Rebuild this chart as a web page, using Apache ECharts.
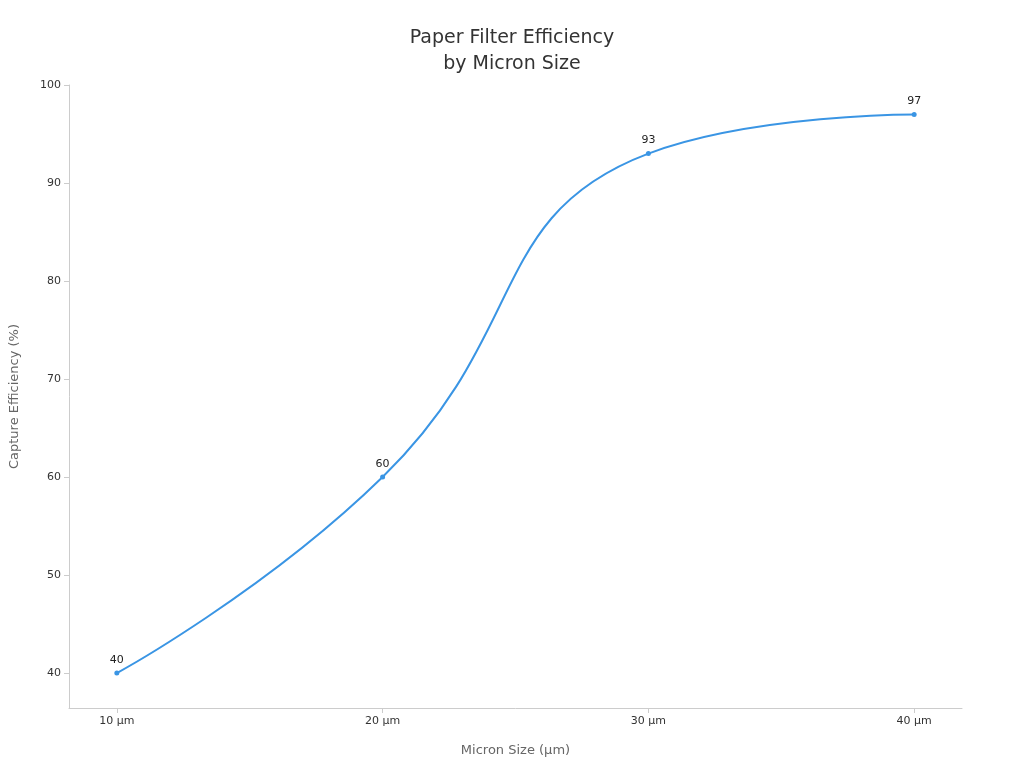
<!DOCTYPE html>
<html>
<head>
<meta charset="utf-8">
<script src="https://cdn.jsdelivr.net/npm/echarts@6/dist/echarts.min.js"></script>
<style>html,body{margin:0;padding:0;background:#fff}#chart-container{width:1024px;height:768px}</style>
</head>
<body>
<div id="chart-container"></div>
<script>
// data
var micronSizes = [10, 20, 30, 40];
var efficiency = [40, 60, 93, 97];
var yTicks = [40, 50, 60, 70, 80, 90, 100];

var chartDom = document.getElementById("chart-container");
var myChart = echarts.init(chartDom);

var font = "DejaVu Sans";
var option = {
  textStyle: { fontFamily: font },
  title: {
    text: "Paper Filter Efficiency\nby Micron Size",
    left: "center",
    top: 20,
    textStyle: { fontSize: 19, fontWeight: "normal", color: "#333", lineHeight: 26, fontFamily: font }
  },
  grid: { left: 68, right: 62, top: 85, bottom: 60 },
  xAxis: {
    type: "value",
    min: 8.2,
    max: 41.8,
    name: "Micron Size (µm)",
    nameLocation: "middle",
    nameGap: 36,
    nameTextStyle: { color: "#666", fontSize: 13 },
    axisLine: { lineStyle: { color: "#ccc" } },
    axisTick: { show: true, customValues: micronSizes, lineStyle: { color: "#ccc" } },
    axisLabel: { customValues: micronSizes, formatter: function (v) { return v + " µm"; }, color: "#333", fontSize: 11 },
    splitLine: { show: false }
  },
  yAxis: {
    type: "value",
    min: 36.43,
    max: 100,
    name: "Capture Efficiency (%)",
    nameLocation: "middle",
    nameGap: 48,
    nameTextStyle: { color: "#666", fontSize: 13 },
    axisLine: { show: true, lineStyle: { color: "#ccc" } },
    axisTick: { show: true, customValues: yTicks, lineStyle: { color: "#ccc" } },
    axisLabel: { customValues: yTicks, color: "#333", fontSize: 11 },
    splitLine: { show: false }
  },
  series: [
    {
      type: "line",
      smooth: true,
      data: micronSizes.map(function (x, i) { return [x, efficiency[i]]; }),
      symbol: "circle",
      symbolSize: 5,
      itemStyle: { color: "#3a95e4" },
      lineStyle: { color: "#3a95e4", width: 2 },
      label: { show: true, position: "top", color: "#222", fontSize: 11, formatter: function (p) { return p.value[1]; } }
    }
  ]
};

myChart.setOption(option);
</script>
</body>
</html>
